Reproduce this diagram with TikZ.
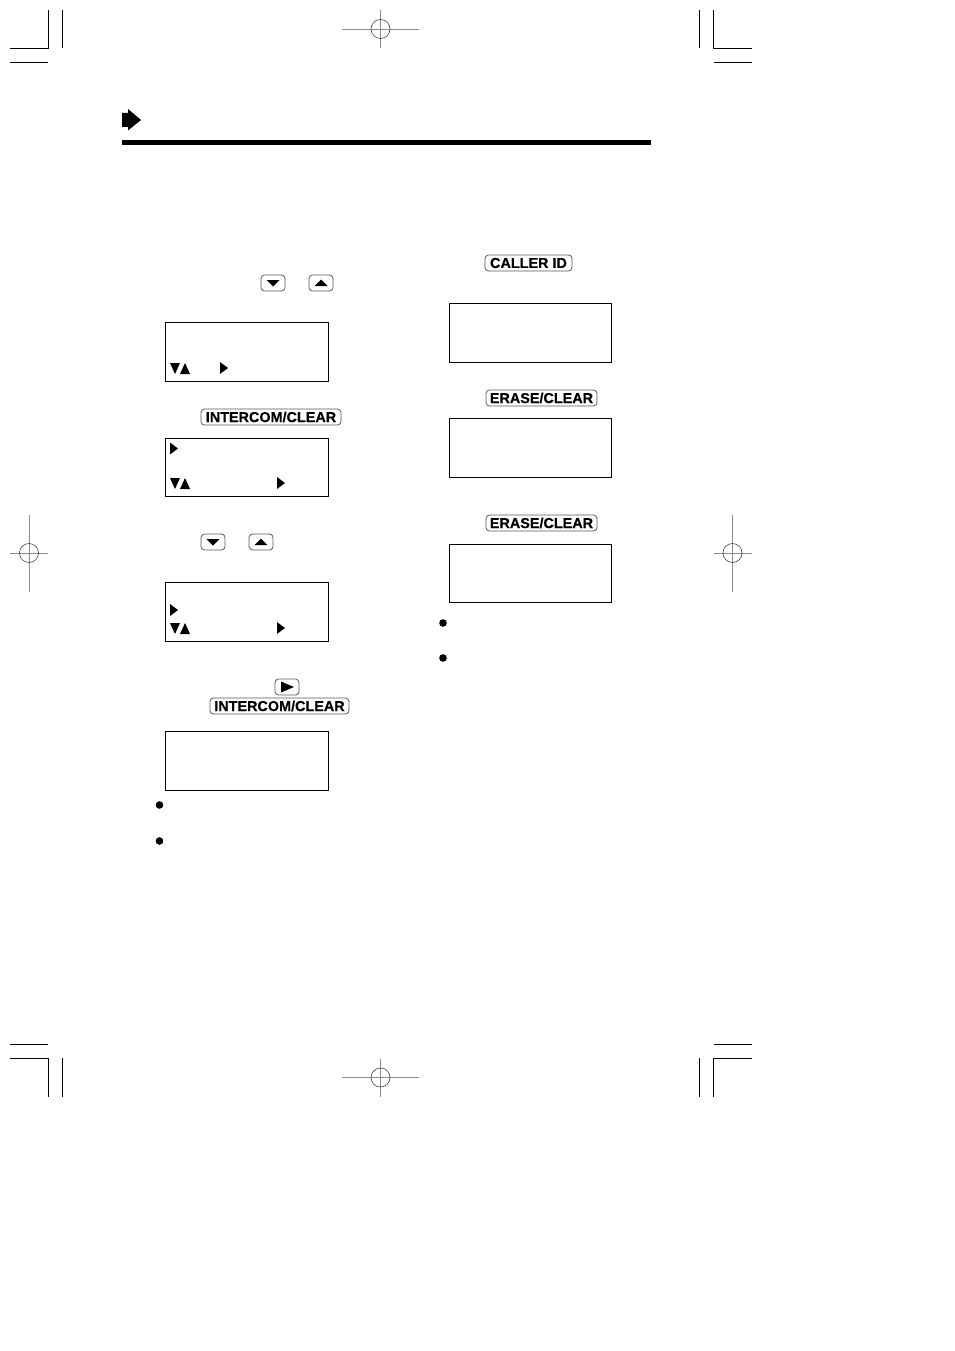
\documentclass[tikz,border=0pt]{standalone}
\usepackage{fontspec}
\setmainfont[BoldFeatures={FakeBold=0.3}]{Liberation Sans}
\tikzset{
  lcd/.style={draw=black,line width=1.2pt,fill=white,inner sep=0pt,outer sep=0pt},
  key/.style={draw=black!65,line width=0.8pt,rounded corners=3.5pt,inner sep=0pt,outer sep=0pt,minimum height=16pt,font=\bfseries\fontsize{14.4}{16}\selectfont,text=black},
  smallkey/.style={key,minimum width=24pt},
  crop/.style={line width=1.2pt,black},
  reg/.style={line width=0.7pt,black!45},
  regc/.style={line width=0.6pt,black!75},
  bulletdot/.style={circle,fill=black,inner sep=0pt,minimum size=7.6pt},
}
\newcommand{\regmark}[4]{% cx cy half-h half-v
  \draw[reg] (#1-#3,#2) -- (#1+#3,#2);
  \draw[reg] (#1,#2-#4) -- (#1,#2+#4);
  \draw[regc] (#1,#2) circle (9.5);
}
\newcommand{\rtri}[2]{\fill (#1,#2-6) -- (#1+8,#2) -- (#1,#2+6) -- cycle;}
\newcommand{\dutri}[2]{%
  \fill (#1,#2-5.5) -- (#1+10,#2-5.5) -- (#1+5,#2+5.5) -- cycle;
  \fill (#1+10,#2+5.5) -- (#1+20,#2+5.5) -- (#1+15,#2-5.5) -- cycle;}
\newcommand{\keydown}[2]{\fill (#1-6.5,#2-3) -- (#1+6.5,#2-3) -- (#1,#2+3.5) -- cycle;}
\newcommand{\keyup}[2]{\fill (#1-6.5,#2+3) -- (#1+6.5,#2+3) -- (#1,#2-3.5) -- cycle;}
\begin{document}
\begin{tikzpicture}[x=1pt,y=-1pt]
\useasboundingbox[fill=white] (0,0) rectangle (954,1351);
% crop marks
\draw[crop] (10,48.3) -- (48.3,48.3) -- (48.3,10);
\draw[crop] (62.3,10) -- (62.3,48);
\draw[crop] (10,62.3) -- (48,62.3);
\draw[crop] (752,48.3) -- (713.7,48.3) -- (713.7,10);
\draw[crop] (699.7,10) -- (699.7,48);
\draw[crop] (714,62.3) -- (752,62.3);
\draw[crop] (10,1058.3) -- (48.3,1058.3) -- (48.3,1097);
\draw[crop] (62.3,1058) -- (62.3,1097);
\draw[crop] (10,1044.3) -- (48,1044.3);
\draw[crop] (752,1058.3) -- (713.7,1058.3) -- (713.7,1097);
\draw[crop] (699.7,1058) -- (699.7,1097);
\draw[crop] (714,1044.3) -- (752,1044.3);
% registration marks
\regmark{380.5}{29}{38.5}{19}
\regmark{380.5}{1077.5}{38.5}{19}
\regmark{29}{553}{19}{38.5}
\regmark{732.5}{553}{19}{38.5}
% header
\fill (122,113) -- (128,113) -- (128,109) -- (141,120) -- (128,130.5) -- (128,127) -- (122,127) -- cycle;
\fill (122,140) rectangle (651,145);
% displays, left column
\node[lcd,minimum width=163pt,minimum height=59pt] (d1) at (247,352) {};
\node[lcd,minimum width=163pt,minimum height=58pt] (d2) at (247,467.5) {};
\node[lcd,minimum width=163pt,minimum height=59pt] (d3) at (247,612) {};
\node[lcd,minimum width=163pt,minimum height=59pt] (d4) at (247,761) {};
% displays, right column
\node[lcd,minimum width=162pt,minimum height=59pt] (d5) at (530.5,333) {};
\node[lcd,minimum width=162pt,minimum height=59pt] (d6) at (530.5,448) {};
\node[lcd,minimum width=162pt,minimum height=58pt] (d7) at (530.5,573.5) {};
% display glyphs
\dutri{170}{368.5}
\rtri{220}{368}
\rtri{170}{448.5}
\dutri{170}{483.5}
\rtri{277}{483}
\rtri{170}{610}
\dutri{170}{628.5}
\rtri{277}{628}
% keys
\node[smallkey] (kd1) at (273,283) {};
\keydown{273}{283}
\node[smallkey] (ku1) at (321,283) {};
\keyup{321}{283}
\node[key,minimum width=140pt] (ki1) at (271,417) {INTERCOM/CLEAR};
\node[smallkey] (kd2) at (213,542) {};
\keydown{213}{542}
\node[smallkey] (ku2) at (261,542) {};
\keyup{261}{542}
\node[smallkey] (kp) at (287,687) {};
\fill (281,681.5) -- (294,687) -- (281,692.5) -- cycle;
\node[key,minimum width=139pt] (ki2) at (279.5,706) {INTERCOM/CLEAR};
\node[key,minimum width=87pt] (kc) at (528.5,263) {CALLER ID};
\node[key,minimum width=111pt] (ke1) at (541.5,398) {ERASE/CLEAR};
\node[key,minimum width=111pt] (ke2) at (541.5,523) {ERASE/CLEAR};
% bullets
\node[bulletdot] (b1) at (159.5,805) {};
\node[bulletdot] (b2) at (159.5,841) {};
\node[bulletdot] (b3) at (443,623) {};
\node[bulletdot] (b4) at (443,658) {};
\end{tikzpicture}
\end{document}
